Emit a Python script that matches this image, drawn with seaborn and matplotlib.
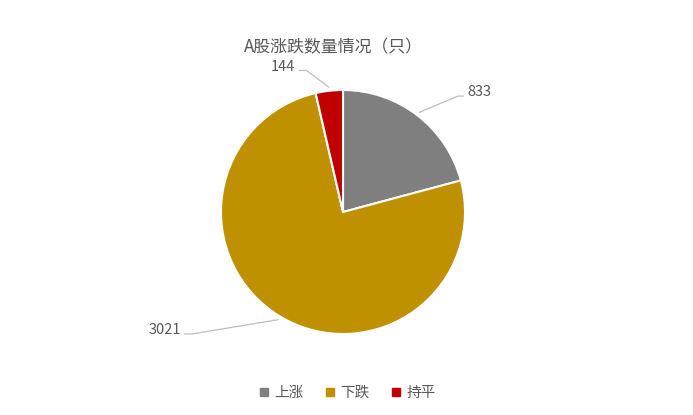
import numpy as np
import seaborn as sns
import matplotlib.pyplot as plt
from matplotlib.lines import Line2D

# --- data ---
categories = ['上涨', '下跌', '持平']
counts = [833, 3021, 144]
colors = ['#7F7F7F', '#BF9000', '#C00000']
title = 'A股涨跌数量情况（只）'

# label placement (elbow point of the leader line, text side)
label_elbow = {'上涨': (0.94, 0.95, 'right'),
               '下跌': (-1.24, -1.00, 'left'),
               '持平': (-0.30, 1.16, 'left')}

sns.set_theme(style='white')
plt.rcParams['font.family'] = ['Noto Sans CJK SC', 'DejaVu Sans']
text_color = '#595959'

W, H = 693, 415
fig = plt.figure(figsize=(W / 100, H / 100), dpi=100)
# pie centre at pixel (343, 212), radius ~122 px
cx, cy, r = 343, 212, 122
half = 200
ax = fig.add_axes([(cx - half) / W, (H - cy - half) / H, 2 * half / W, 2 * half / H])

wedges, _ = ax.pie(counts, colors=colors, startangle=90, counterclock=False,
                   radius=1.0, wedgeprops=dict(edgecolor='white', linewidth=1.5))
lim = half / r
ax.set_xlim(-lim, lim)
ax.set_ylim(-lim, lim)
ax.set_aspect('equal')
ax.axis('off')

total = sum(counts)
start = 90.0
for cat, val in zip(categories, counts):
    span = val / total * 360
    mid = np.deg2rad(start - span / 2)
    start -= span
    tx, ty = 1.03 * np.cos(mid), 1.03 * np.sin(mid)
    ex, ey, side = label_elbow[cat]
    hx = ex + 0.05 if side == 'right' else ex - 0.06
    ax.plot([tx, ex, hx], [ty, ey, ey], color='#BFBFBF', lw=0.9, clip_on=False)
    if side == 'right':
        ax.text(hx + 0.03, ey + 0.03, f'{val}', ha='left', va='center',
                fontsize=10.5, color=text_color)
    else:
        ax.text(hx - 0.03, ey + 0.03, f'{val}', ha='right', va='center',
                fontsize=10.5, color=text_color)

fig.text(333 / W, 1 - 47 / H, title, ha='center', va='center',
         fontsize=12.2, color=text_color)

handles = [Line2D([0], [0], marker='s', linestyle='', markersize=6,
                  markerfacecolor=c, markeredgecolor=c) for c in colors]
fig.legend(handles, categories, loc='center', bbox_to_anchor=(347 / W, 1 - 393 / H),
           ncol=3, frameon=False, fontsize=10.5, labelcolor=text_color,
           handlelength=0.8, handletextpad=0.3, columnspacing=1.4)

fig.savefig('out.png', dpi=100, facecolor='white')
